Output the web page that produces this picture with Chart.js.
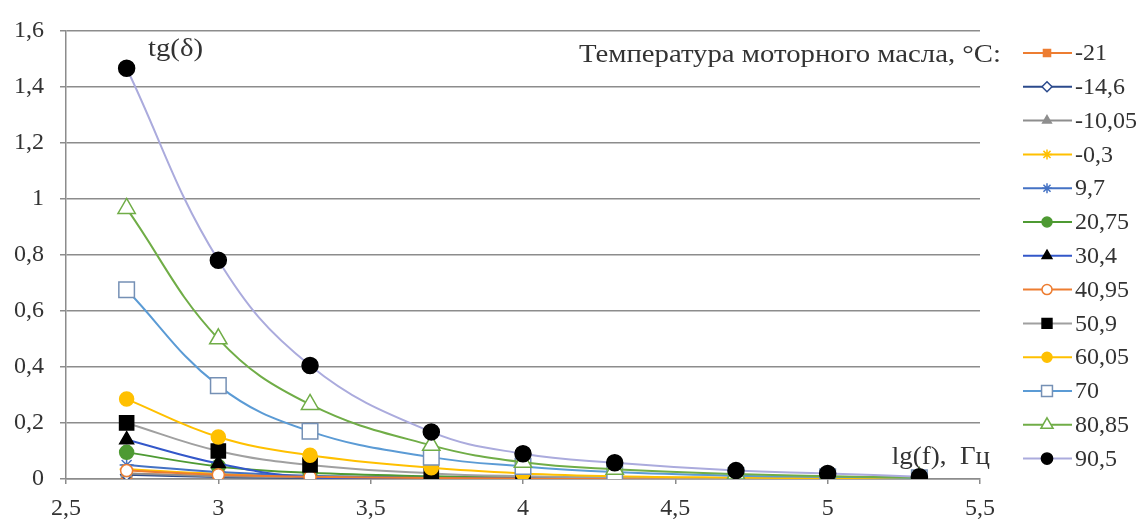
<!DOCTYPE html>
<html>
<head>
<meta charset="utf-8">
<script src="https://cdn.jsdelivr.net/npm/chart.js@4/dist/chart.umd.min.js"></script>
<style>
  html, body { margin: 0; padding: 0; background: #ffffff; }
  #wrap { width: 1140px; height: 524px; position: relative; }
</style>
</head>
<body>
<div id="wrap"><canvas id="c" width="1140" height="524"></canvas></div>
<script>
// lg of the measurement frequency, Hz (500 Hz ... 200 kHz)
const lgF = [2.699, 3, 3.301, 3.699, 4, 4.301, 4.699, 5, 5.301];

// Oil temperature labels, °C
const temps = ['-21', '-14,6', '-10,05', '-0,3', '9,7', '20,75', '30,4', '40,95', '50,9', '60,05', '70', '80,85', '90,5'];

// tg(delta) at each frequency, one array per temperature
const tgM21   = [0.020, 0.010, 0.005, 0.003, 0.002, 0.002, 0.001, 0.001, 0.001];
const tgM14_6 = [0.015, 0.007, 0.004, 0.002, 0.001, 0.001, 0.001, 0.001, 0.001];
const tgM10_05= [0.020, 0.010, 0.006, 0.003, 0.002, 0.002, 0.001, 0.001, 0.001];
const tgM0_3  = [0.035, 0.018, 0.010, 0.005, 0.003, 0.002, 0.001, 0.001, 0.001];
const tg9_7   = [0.050, 0.025, 0.012, 0.006, 0.004, 0.003, 0.002, 0.001, 0.001];
const tg20_75 = [0.095, 0.045, 0.022, 0.010, 0.006, 0.004, 0.002, 0.002, 0.001];
const tg30_4  = [0.140, 0.055, 0.005, 0.004, 0.003, 0.002, 0.002, 0.001, 0.001];
const tg40_95 = [0.030, 0.015, 0.008, 0.004, 0.002, 0.002, 0.001, 0.001, 0.001];
const tg50_9  = [0.200, 0.100, 0.050, 0.020, 0.010, 0.006, 0.003, 0.002, 0.001];
const tg60_05 = [0.285, 0.150, 0.085, 0.040, 0.020, 0.010, 0.005, 0.003, 0.002];
const tg70    = [0.675, 0.333, 0.170, 0.078, 0.045, 0.025, 0.012, 0.008, 0.004];
const tg80_85 = [0.965, 0.500, 0.266, 0.120, 0.060, 0.035, 0.018, 0.010, 0.005];
const tg90_5  = [1.465, 0.780, 0.405, 0.168, 0.090, 0.058, 0.030, 0.020, 0.008];

const yTicks = [0, 0.2, 0.4, 0.6, 0.8, 1, 1.2, 1.4, 1.6];
const xTicks = [2.5, 3, 3.5, 4, 4.5, 5, 5.5];

const seriesValues = [tgM21, tgM14_6, tgM10_05, tgM0_3, tg9_7, tg20_75, tg30_4,
                      tg40_95, tg50_9, tg60_05, tg70, tg80_85, tg90_5];

// Line and marker look for each series
const looks = [
  { line: '#ED7D31', shape: 'rect',     fill: '#ED7D31', edge: '#ED7D31', r: 7 },
  { line: '#2B4A8C', shape: 'rectRot',  fill: '#ffffff', edge: '#2B4A8C', r: 6 },
  { line: '#8E8E8E', shape: 'triangle', fill: '#8E8E8E', edge: '#8E8E8E', r: 6 },
  { line: '#FFC000', shape: 'star',     fill: '#FFC000', edge: '#FFC000', r: 7 },
  { line: '#4472C4', shape: 'star',     fill: '#4472C4', edge: '#4472C4', r: 7 },
  { line: '#4E9A33', shape: 'circle',   fill: '#4E9A33', edge: '#4E9A33', r: 7 },
  { line: '#3357C9', shape: 'triangle', fill: '#000000', edge: '#000000', r: 8 },
  { line: '#ED7D31', shape: 'circle',   fill: '#ffffff', edge: '#ED7D31', r: 6 },
  { line: '#A0A0A0', shape: 'rect',     fill: '#000000', edge: '#000000', r: 10 },
  { line: '#FFC000', shape: 'circle',   fill: '#FFC000', edge: '#FFC000', r: 7 },
  { line: '#5B9BD5', shape: 'rect',     fill: '#ffffff', edge: '#7590B5', r: 11 },
  { line: '#70AD47', shape: 'triangle', fill: '#ffffff', edge: '#70AD47', r: 10 },
  { line: '#ABABDD', shape: 'circle',   fill: '#000000', edge: '#000000', r: 8 }
];

const FONT = '"Liberation Serif", "Times New Roman", serif';
const TEXT = '#333333';
const N = temps.length;

const datasets = seriesValues.map((vals, i) => ({
  label: temps[i],
  data: lgF.map((x, k) => ({ x: x, y: vals[k] })),
  showLine: true,
  tension: 0.4,
  borderColor: looks[i].line,
  borderWidth: 2,
  pointStyle: looks[i].shape,
  pointRadius: looks[i].r,
  pointBackgroundColor: looks[i].fill,
  pointBorderColor: looks[i].edge,
  pointBorderWidth: 1.5,
  order: N - i
}));

// Legend on the right: short line with marker, then the temperature
const sideLegend = {
  id: 'sideLegend',
  afterDraw(chart) {
    const ctx = chart.ctx;
    ctx.save();
    const x0 = 1023, x1 = 1072, xm = 1047, xt = 1075;
    for (let i = 0; i < N; i++) {
      const y = 53 + i * 33.8;
      const lk = looks[i];
      ctx.strokeStyle = lk.line;
      ctx.lineWidth = 2;
      ctx.beginPath();
      ctx.moveTo(x0, y);
      ctx.lineTo(x1, y);
      ctx.stroke();
      ctx.fillStyle = lk.fill;
      ctx.strokeStyle = lk.edge;
      ctx.lineWidth = 1.5;
      Chart.helpers.drawPoint(ctx, { pointStyle: lk.shape, radius: Math.max(5, lk.r * 0.7), rotation: 0, borderWidth: 1.5 }, xm, y);
      ctx.fillStyle = TEXT;
      ctx.font = '24px ' + FONT;
      ctx.textAlign = 'left';
      ctx.textBaseline = 'middle';
      ctx.fillText(temps[i], xt, y + 1);
    }
    ctx.restore();
  }
};

// Text drawn slightly widened, anchored at (x, y)
function wideText(ctx, text, x, y, align, sx) {
  ctx.save();
  ctx.translate(x, y);
  ctx.scale(sx, 1);
  ctx.textAlign = align;
  ctx.fillText(text, 0, 0);
  ctx.restore();
}

// Axis captions and legend heading inside the plot
const captions = {
  id: 'captions',
  afterDraw(chart) {
    const ctx = chart.ctx;
    ctx.save();
    ctx.fillStyle = TEXT;
    ctx.font = '25px ' + FONT;
    ctx.textBaseline = 'middle';
    wideText(ctx, 'tg(δ)', 148, 49, 'left', 1.15);
    wideText(ctx, 'lg(f),  Гц', 990, 457, 'right', 1.08);
    wideText(ctx, 'Температура моторного масла, °C:', 1001, 55, 'right', 1.15);
    ctx.restore();
  }
};

const fmt = v => String(Math.round(v * 10) / 10).replace('.', ',');

new Chart(document.getElementById('c'), {
  type: 'scatter',
  data: { datasets: datasets },
  options: {
    responsive: false,
    animation: false,
    events: [],
    layout: { padding: { left: 0, top: 23, right: 160, bottom: 0 } },
    plugins: { legend: { display: false }, tooltip: { enabled: false } },
    scales: {
      x: {
        type: 'linear',
        min: 2.5,
        max: 5.5,
        afterBuildTicks: s => { s.ticks = xTicks.map(v => ({ value: v })); },
        afterFit: s => { s.height = 45; },
        grid: { display: true, drawOnChartArea: false, drawTicks: true, tickLength: 5, color: '#8c8c8c', lineWidth: 1.5 },
        border: { display: true, color: '#8c8c8c', width: 1.5 },
        ticks: { color: TEXT, font: { family: FONT, size: 24 }, padding: 10, maxRotation: 0, callback: v => fmt(v) }
      },
      y: {
        type: 'linear',
        min: 0,
        max: 1.6,
        afterBuildTicks: s => { s.ticks = yTicks.map(v => ({ value: v })); },
        afterFit: s => { s.width = 66; },
        grid: { display: true, drawTicks: true, tickLength: 6, color: '#8c8c8c', lineWidth: 1.5 },
        border: { display: true, color: '#8c8c8c', width: 1.5 },
        ticks: { color: TEXT, font: { family: FONT, size: 24 }, padding: 16, callback: v => fmt(v) }
      }
    }
  },
  plugins: [sideLegend, captions]
});
</script>
</body>
</html>
